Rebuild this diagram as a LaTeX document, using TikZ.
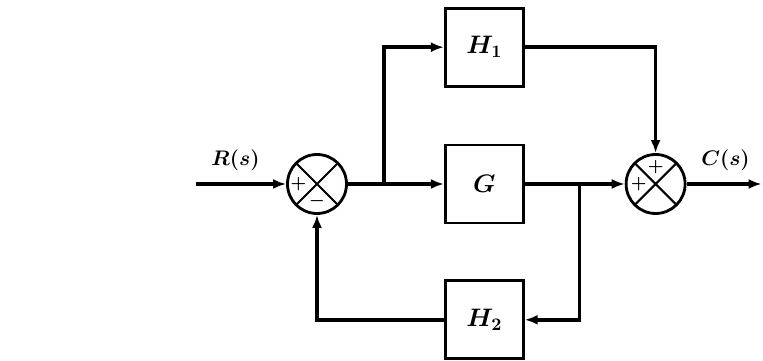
\documentclass[tikz,border=0pt]{standalone}
\usepackage{tikz}
\usetikzlibrary{calc,arrows.meta,positioning}

\begin{document}
\begin{tikzpicture}[
        block/.style={draw, line width=1.6pt, minimum width=1.56cm, minimum height=1.56cm, font=\Large\boldmath},
        sumjunc/.style={draw, circle, line width=1.6pt, minimum size=1.18cm, inner sep=0pt,
            path picture={\draw[line width=1.2pt] (path picture bounding box.north west) -- (path picture bounding box.south east)
                (path picture bounding box.north east) -- (path picture bounding box.south west);}},
        sign/.style={font=\normalsize\boldmath, inner sep=0pt},
        lbl/.style={font=\large\boldmath},
        sig/.style={line width=2pt},
        >={Latex[length=0.26cm,width=0.2cm]}
    ]
        \useasboundingbox (0,0) rectangle (15.26,7.22);

        \node[sumjunc] (sum1) at (6.34,3.54) {};
        \node[block, right=1.92cm of sum1] (G) {$G$};
        \node[block, above=1.12cm of G] (H1) {$H_1$};
        \node[block, below=1.1cm of G] (H2) {$H_2$};
        \node[sumjunc, right=2.0cm of G] (sum2) {};
        \coordinate[left=1.81cm of sum1] (in);
        \coordinate[right=1.5cm of sum2] (out);
        \coordinate (br1) at ($(sum1.east)!0.375!(G.west)$);
        \coordinate (br2) at ($(G.east)!0.55!(sum2.west)$);

        % signs
        \node[sign] (s1a) at ([xshift=-0.37cm]sum1.center) {$+$};
        \node[sign] (s1b) at ([yshift=-0.34cm]sum1.center) {$-$};
        \node[sign] (s2a) at ([xshift=-0.34cm]sum2.center) {$+$};
        \node[sign] (s2b) at ([yshift=0.34cm]sum2.center) {$+$};

        \draw[sig,->] (in) -- node[above=3pt, pos=0.44, lbl] (rlab) {$R(s)$} (sum1);
        \draw[sig,->] (sum1) -- (G);
        \draw[sig,->] (br1) |- (H1);
        \draw[sig,->] (H1) -| (sum2);
        \draw[sig,->] (G) -- (sum2);
        \draw[sig,->] (br2) |- (H2);
        \draw[sig,->] (H2) -| (sum1);
        \draw[sig,->] (sum2) -- node[above=3pt, pos=0.52, lbl] (clab) {$C(s)$} (out);
    \end{tikzpicture}
\end{document}
